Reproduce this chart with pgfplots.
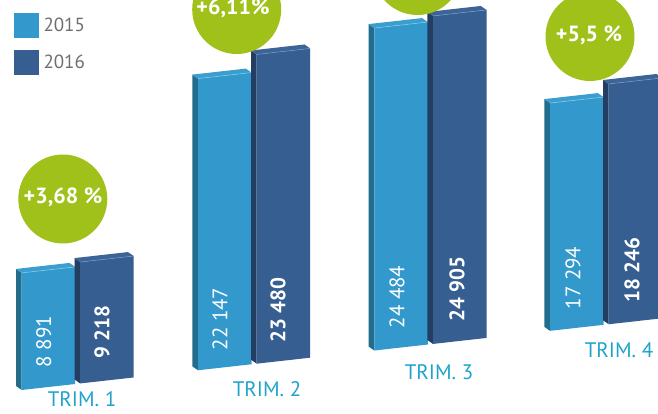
\documentclass[border=0pt]{standalone}
\usepackage{pgfplots}
\pgfplotsset{compat=1.18}
\usepackage{fontspec}
\setmainfont{PT Sans}
\definecolor{lf}{HTML}{3399CC}
\definecolor{ls}{HTML}{226C8C}
\definecolor{lt}{HTML}{3A9ECE}
\definecolor{lh}{HTML}{7CC4E6}
\definecolor{df}{HTML}{365E91}
\definecolor{ds}{HTML}{243E63}
\definecolor{dt}{HTML}{3C6496}
\definecolor{dh}{HTML}{6F93C2}
\definecolor{grn}{HTML}{A0C11A}
\definecolor{trim}{HTML}{1FA2CD}
\definecolor{leg}{HTML}{6E6E6E}
% x0 (front left, px), value, front, side, top, highlight
\newcommand{\tdbar}[6]{%
  \pgfmathsetmacro\xa{#1}%
  \pgfmathsetmacro\xb{#1+53.5}%
  \pgfmathsetmacro\xc{#1-5.7}%
  \pgfmathsetmacro\xd{#1+53.5-5.7}%
  \edef\vt{\the\numexpr #2+350\relax}%
  \addplot[fill=#4, draw=none] coordinates {(\xa,0) (\xa,#2) (\xc,\vt) (\xc,350)};
  \addplot[fill=#3, draw=none] coordinates {(\xa,0) (\xb,0) (\xb,#2) (\xa,#2)};
  \addplot[fill=#5, draw=none] coordinates {(\xa,#2) (\xb,#2) (\xd,\vt) (\xc,\vt)};
  \addplot[draw=#6, line width=0.6pt] coordinates {(\xa,#2) (\xb,#2)};
}
\begin{document}
\begin{tikzpicture}
\begin{axis}[name=ax, hide axis, scale only axis, width=658pt, height=414pt,
  xmin=0, xmax=658, ymin=-1637.8, ymax=29797.3, enlargelimits=false, clip=false,
  y filter/.expression={y+8.504*x}]
% TRIM. 1
\tdbar{21.7}{8891}{lf}{ls}{lt}{lh}
\tdbar{80.2}{9218}{df}{ds}{dt}{dh}
% TRIM. 2
\tdbar{198}{22147}{lf}{ls}{lt}{lh}
\tdbar{256.7}{23480}{df}{ds}{dt}{dh}
% TRIM. 3
\tdbar{374.3}{24484}{lf}{ls}{lt}{lh}
\tdbar{433}{24905}{df}{ds}{dt}{dh}
% TRIM. 4
\tdbar{550}{17294}{lf}{ls}{lt}{lh}
\tdbar{608.7}{18246}{df}{ds}{dt}{dh}
\end{axis}
\begin{scope}[shift={(ax.north west)}, x=1pt, y=-1pt]
  % badges
  \fill[grn] (62.8,199) circle[radius=44.5pt];
  \fill[grn] (236.7,9.5) circle[radius=44.5pt];
  \fill[grn] (417.5,-29.5) circle[radius=44.5pt];
  \fill[grn] (590,36.5) circle[radius=44.5pt];
  \begin{scope}[every node/.style={text=white, inner sep=0pt, font=\bfseries\fontsize{22}{22}\selectfont}]
    \node at (63,197.5) {+3,68 \%};
    \node at (233,8.5) {+6,11\%};
    \node at (589,35) {+5,5 \%};
  \end{scope}
  % values
  \begin{scope}[every node/.style={text=white, inner sep=0pt, rotate=90, font=\fontsize{21}{21}\selectfont}]
    \node at (43.7,341.5) {8 891};
    \node at (220,319) {22 147};
    \node at (397,297) {24 484};
    \node at (573,278) {17 294};
    \node[font=\bfseries\fontsize{21}{21}\selectfont] at (102,332) {9 218};
    \node[font=\bfseries\fontsize{21}{21}\selectfont] at (278,310) {23 480};
    \node[font=\bfseries\fontsize{21}{21}\selectfont] at (457,289) {24 905};
    \node[font=\bfseries\fontsize{21}{21}\selectfont] at (632,270) {18 246};
  \end{scope}
  % category labels
  \begin{scope}[every node/.style={text=trim, inner sep=0pt, anchor=base, font=\fontsize{21}{21}\selectfont}]
    \node at (82,407) {TRIM. 1};
    \node at (267,397) {TRIM. 2};
    \node at (439,380) {TRIM. 3};
    \node at (619,358) {TRIM. 4};
  \end{scope}
  % legend
  \fill[lf] (14,12.7) rectangle (39,37.7);
  \fill[df] (14,50) rectangle (39,75);
  \node[anchor=west, inner sep=0pt, text=leg, font=\fontsize{19}{19}\selectfont] at (43.3,25) {2015};
  \node[anchor=west, inner sep=0pt, text=leg, font=\fontsize{19}{19}\selectfont] at (43.3,61.7) {2016};
\end{scope}
\pgfresetboundingbox
\path[use as bounding box] (ax.south west) rectangle (ax.north east);
\end{tikzpicture}
\end{document}
